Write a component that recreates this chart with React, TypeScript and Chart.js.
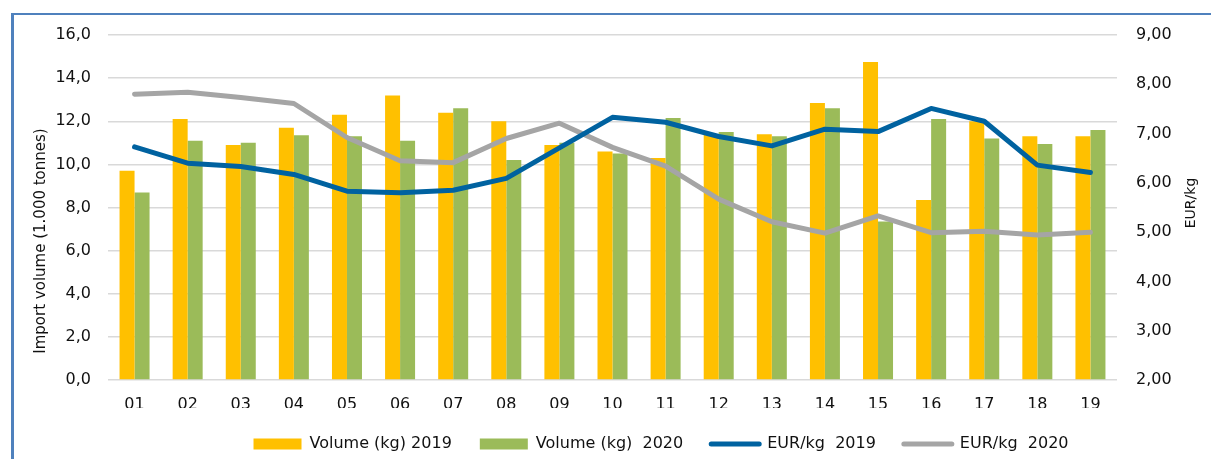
import React, { useEffect, useRef } from 'react';
import { Chart, registerables } from 'chart.js';

Chart.register(...registerables);

const categories = ['01', '02', '03', '04', '05', '06', '07', '08', '09', '10', '11', '12', '13', '14', '15', '16', '17', '18', '19'];
const volume2019 = [9.7, 12.1, 10.9, 11.7, 12.3, 13.2, 12.4, 12.0, 10.9, 10.6, 10.3, 11.4, 11.4, 12.85, 14.75, 8.35, 12.0, 11.3, 11.3];
const volume2020 = [8.7, 11.1, 11.0, 11.35, 11.3, 11.1, 12.6, 10.2, 11.0, 10.5, 12.15, 11.5, 11.3, 12.6, 7.35, 12.1, 11.2, 10.95, 11.6];
const eur2019 = [6.73, 6.4, 6.33, 6.17, 5.83, 5.8, 5.85, 6.09, 6.71, 7.33, 7.23, 6.94, 6.75, 7.09, 7.04, 7.51, 7.25, 6.36, 6.21];
const eur2020 = [7.8, 7.84, 7.73, 7.61, 6.92, 6.45, 6.41, 6.9, 7.21, 6.72, 6.34, 5.67, 5.21, 4.98, 5.33, 4.99, 5.02, 4.94, 5.0];

const seriesLabels = ['Volume (kg) 2019', 'Volume (kg)  2020', 'EUR/kg  2019', 'EUR/kg  2020'];
const leftTitle = 'Import volume (1.000 tonnes)';
const rightTitle = 'EUR/kg';
const leftTicks = { min: 0, max: 16, step: 2 };
const rightTicks = { min: 2, max: 9, step: 1 };

const FONT = '"DejaVu Sans", Verdana, sans-serif';
const TEXT = '#111111';
const YELLOW = '#FFC000';
const GREEN = '#9BBB59';
const BLUE = '#0062A0';
const GREY = '#A5A5A5';

const titlePlugin = {
  id: 'axisTitles',
  afterDraw(chart: any) {
    const { ctx, chartArea } = chart;
    const cy = (chartArea.top + chartArea.bottom) / 2;
    ctx.save();
    ctx.fillStyle = TEXT;
    ctx.textAlign = 'center';
    ctx.textBaseline = 'middle';
    ctx.font = `15px ${FONT}`;
    ctx.translate(chartArea.left - 67, cy + 33.5);
    ctx.rotate(-Math.PI / 2);
    ctx.fillText(leftTitle, 0, 0);
    ctx.restore();
    ctx.save();
    ctx.fillStyle = TEXT;
    ctx.textAlign = 'center';
    ctx.textBaseline = 'middle';
    ctx.font = `14px ${FONT}`;
    ctx.translate(chartArea.right + 74, cy - 4.5);
    ctx.rotate(-Math.PI / 2);
    ctx.fillText(rightTitle, 0, 0);
    ctx.restore();
  },
};

const legendShiftPlugin = {
  id: 'legendShift',
  afterLayout(chart: any) {
    const lg = chart.legend;
    if (lg) {
      lg.left += 46;
      lg.right += 46;
    }
  },
};

export default function App() {
  const ref = useRef<HTMLCanvasElement>(null);

  useEffect(() => {
    if (!ref.current) return;
    const chart = new Chart(ref.current, {
      type: 'bar',
      data: {
        labels: categories,
        datasets: [
          {
            type: 'bar',
            label: seriesLabels[0],
            data: volume2019,
            backgroundColor: YELLOW,
            yAxisID: 'y',
            order: 3,
            categoryPercentage: 0.565,
            barPercentage: 1,
          },
          {
            type: 'bar',
            label: seriesLabels[1],
            data: volume2020,
            backgroundColor: GREEN,
            yAxisID: 'y',
            order: 3,
            categoryPercentage: 0.565,
            barPercentage: 1,
          },
          {
            type: 'line',
            label: seriesLabels[2],
            data: eur2019,
            borderColor: BLUE,
            backgroundColor: BLUE,
            borderWidth: 5,
            pointRadius: 0,
            tension: 0,
            borderJoinStyle: 'round',
            borderCapStyle: 'round',
            yAxisID: 'y1',
            order: 1,
          },
          {
            type: 'line',
            label: seriesLabels[3],
            data: eur2020,
            borderColor: GREY,
            backgroundColor: GREY,
            borderWidth: 5,
            pointRadius: 0,
            tension: 0,
            borderJoinStyle: 'round',
            borderCapStyle: 'round',
            yAxisID: 'y1',
            order: 2,
          },
        ] as any,
      },
      options: {
        responsive: false,
        animation: false,
        events: [],
        layout: { padding: { left: 25, right: 6, top: 35, bottom: 0 } },
        plugins: {
          tooltip: { enabled: false },
          legend: {
            position: 'bottom',
            labels: {
              usePointStyle: true,
              pointStyleWidth: 48,
              boxHeight: 11,
              padding: 28,
              color: TEXT,
              font: { family: FONT, size: 16 },
              generateLabels: (chart: any) =>
                chart.data.datasets.map((ds: any, i: number) => {
                  const isLine = ds.type === 'line';
                  const c = isLine ? ds.borderColor : ds.backgroundColor;
                  return {
                    text: ds.label,
                    datasetIndex: i,
                    hidden: false,
                    fillStyle: c,
                    strokeStyle: c,
                    lineWidth: isLine ? 5 : 0,
                    lineCap: 'round',
                    pointStyle: isLine ? 'line' : 'rect',
                    fontColor: TEXT,
                  };
                }),
            },
          },
        },
        scales: {
          x: {
            grid: { display: false, drawTicks: false },
            border: { display: false },
            ticks: { color: TEXT, font: { family: FONT, size: 16 }, padding: 15 },
            afterFit: (s: any) => {
              s.height = 28;
            },
          },
          y: {
            position: 'left',
            min: leftTicks.min,
            max: leftTicks.max,
            ticks: {
              stepSize: leftTicks.step,
              padding: 17,
              color: TEXT,
              font: { family: FONT, size: 16 },
              callback: (v: any) => Number(v).toFixed(1).replace('.', ','),
            },
            grid: { color: '#D9D9D9', lineWidth: 1.5, drawTicks: false },
            border: { display: false },
            afterFit: (s: any) => {
              s.width = 83;
            },
          },
          y1: {
            position: 'right',
            min: rightTicks.min,
            max: rightTicks.max,
            ticks: {
              stepSize: rightTicks.step,
              padding: 19,
              color: TEXT,
              font: { family: FONT, size: 16 },
              callback: (v: any) => Number(v).toFixed(2).replace('.', ','),
            },
            grid: { display: false, drawTicks: false },
            border: { display: false },
            afterFit: (s: any) => {
              s.width = 88;
            },
          },
        },
      } as any,
      plugins: [titlePlugin, legendShiftPlugin],
    });
    return () => chart.destroy();
  }, []);

  return (
    <div style={{ position: 'fixed', left: 0, top: 0, width: 1211, height: 462, background: '#ffffff' }}>
      <div
        style={{
          position: 'absolute',
          left: 11,
          top: 13,
          width: 1300,
          height: 600,
          borderTop: '2px solid #4F81BD',
          borderLeft: '3px solid #4F81BD',
        }}
      />
      <canvas ref={ref} width={1211} height={462} style={{ position: 'absolute', left: 0, top: 0 }} />
    </div>
  );
}
